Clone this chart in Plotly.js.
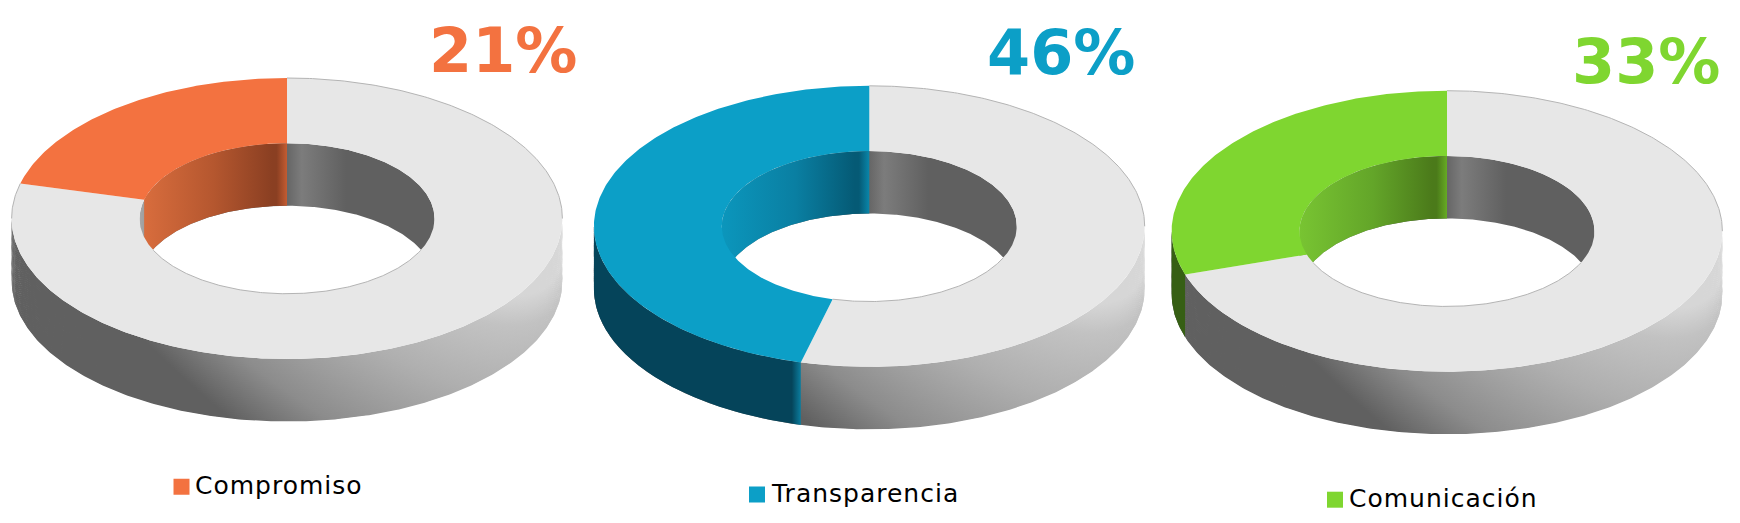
<!DOCTYPE html>
<html><head><meta charset="utf-8">
<script src="https://cdn.plot.ly/plotly-3.0.1.min.js"></script>
<style>html,body{margin:0;padding:0;background:#fff}#c{width:1740px;height:523px}
.annotation[data-index="1"] text,.annotation[data-index="3"] text,.annotation[data-index="5"] text{letter-spacing:1px}
</style>
</head><body><div id="c"></div>
<script>
// ---- data ----
const categories = ['Compromiso', 'Transparencia', 'Comunicación'];
const shownPercent = [21, 46, 33];        // printed numbers
const wedgePercent = [21, 46, 30];        // size of the coloured slice as drawn
// ---- colours ----
const topColors = ['#f37240', '#0c9fc7', '#7fd630'];
const outerWallColors = ['#8a3f22', '#05445a', '#365f14'];
const outerWallFade = ['#8a3f22', '#0b7d9e', '#365f14'];
const innerScales = [
  [[0,'#da6e3e'],[0.5,'#b5572f'],[0.9,'#8a3f22'],[0.93,'#8a3f22'],[1,'#c45c32']],
  [[0,'#0b96bc'],[0.5,'#0a7fa2'],[0.9,'#055a75'],[0.93,'#055a75'],[1,'#0a86aa']],
  [[0,'#78c432'],[0.5,'#63a529'],[0.9,'#4b7a1a'],[0.93,'#4b7a1a'],[1,'#66ab24']]
];
const restColor = '#e7e7e7', edgeColor = '#b4b4b4';
const greyWallScale = [[0,'#606060'],[0.32,'#606060'],[0.5,'#8c8c8c'],[0.75,'#afafaf'],[0.925,'#c2c2c2'],[1,'#d6d6d6']];
const greyInnerScale = [[0,'#a8a8a8'],[0.05,'#8a8a8a'],[0.3,'#606060'],[0.5,'#666666'],[0.55,'#7c7c7c'],[0.7,'#606060'],[1,'#606060']];
// ---- layout of each ring, in page pixels ----
const W = 1740, H = 523;
const centreX = [287, 869.3, 1447], centreY = [218.5, 226.3, 231.2];
const radX = 275.4, radY = 140.5, innerRatio = 0.5356, depthUnits = 0.445;
const labelX = [432, 990, 1575], labelBase = [71, 73.3, 82.3];
const squareX = [181.5, 757, 1335], squareY = [486.7, 494.5, 499.7];
const nameX = [195, 771, 1349.4], nameBase = [492.7, 500.7, 505.7];
const wallStrips = 32, wallSlant = 0.16;

function arc(a, b, r, drop) {
  const xs = [], ys = [], n = Math.max(2, Math.ceil(Math.abs(b - a) * 1.5));
  for (let i = 0; i <= n; i++) {
    const t = (a + (b - a) * i / n) * Math.PI / 180;
    xs.push(-r * Math.sin(t)); ys.push(r * Math.cos(t) - drop);
  }
  return [xs, ys];
}
function band(a, b, r1, d1, r2, d2) {
  const p = arc(a, b, r1, d1), q = arc(b, a, r2, d2);
  return [p[0].concat(q[0], [p[0][0]]), p[1].concat(q[1], [p[1][0]])];
}
const greyInner = {type:'horizontal', start:-innerRatio, stop:innerRatio, colorscale:greyInnerScale};

const traces = [], layout = {
  width:W, height:H, margin:{l:0,r:0,t:0,b:0}, paper_bgcolor:'#fff', plot_bgcolor:'rgba(0,0,0,0)',
  showlegend:false, hovermode:false, annotations:[]
};
categories.forEach((name, i) => {
  const sfx = i ? String(i + 1) : '';
  const xa = 'x' + sfx, ya = 'y' + sfx;
  const half = 1.04;
  layout['xaxis' + sfx] = {domain:[(centreX[i] - half*radX)/W, (centreX[i] + half*radX)/W], range:[-half, half], visible:false, fixedrange:true};
  layout['yaxis' + sfx] = {domain:[0,1], range:[-(H - centreY[i])/radY, centreY[i]/radY], visible:false, fixedrange:true};
  const px = v => (v - centreX[i]) / radX;
  const py = v => (centreY[i] - v) / radY;
  const w = wedgePercent[i] * 3.6;
  const add = (b, extra) => traces.push(Object.assign({type:'scatter', mode:'lines', x:b[0], y:b[1], xaxis:xa, yaxis:ya, fill:'toself', line:{width:0}, hoverinfo:'skip'}, extra));
  // outer side wall: stacked strips so the shading leans diagonally
  for (let k = wallStrips - 1; k >= 0; k--) {
    const f0 = k / wallStrips, f1 = (k + 1) / wallStrips;
    const low = k === wallStrips - 1 ? depthUnits : (f1 + 0.02) * depthUnits;
    const s = ((f0 + f1) / 2 - 0.5) * 2 * wallSlant;
    add(band(90, 270, 1, f0 * depthUnits, 1, low), {name:'rest wall',
      fillgradient:{type:'horizontal', start:-1 + s, stop:1 + s, colorscale:greyWallScale}});
  }
  if (w > 90) {
    const xe = -Math.sin(w * Math.PI / 180);
    const fadeAt = Math.max(0, 1 - (9 / radX) / (xe + 1));
    add(band(90, w, 1, 0, 1, depthUnits), {fillgradient:{type:'horizontal', start:-1, stop:xe,
      colorscale:[[0,outerWallColors[i]],[fadeAt,outerWallColors[i]],[1,outerWallFade[i]]]}, name:name + ' wall'});
  }
  // inner wall
  add(band(-90, 90, innerRatio, 0, innerRatio, depthUnits), {fillgradient:greyInner, name:'rest inner wall'});
  add(band(0, Math.min(w, 90), innerRatio, 0, innerRatio, depthUnits), {fillgradient:{type:'horizontal', start:-innerRatio, stop:0, colorscale:innerScales[i]}, name:name + ' inner wall'});
  // top face
  add(band(w, 360, 1, 0, innerRatio, 0), {fillcolor:restColor, name:'rest'});
  add(band(0, w, 1, 0, innerRatio, 0), {fillcolor:topColors[i], name:name});
  // thin edges of the pale part
  const edge = (a, b, r) => { const p = arc(a, b, r, 0);
    traces.push({type:'scatter', mode:'lines', x:p[0], y:p[1], xaxis:xa, yaxis:ya, line:{color:edgeColor, width:1}, hoverinfo:'skip'}); };
  edge(270, 360, 1);
  if (w < 90) edge(w, 90, 1);
  edge(Math.max(w, 115), 245, innerRatio);
  // legend square
  traces.push({type:'scatter', mode:'markers', x:[px(squareX[i])], y:[py(squareY[i])], xaxis:xa, yaxis:ya,
    marker:{symbol:'square', size:16, color:topColors[i]}, hoverinfo:'skip', name:name});
  // texts
  layout.annotations.push({xref:xa, yref:ya, x:px(labelX[i]), y:py(labelBase[i] - 21), xanchor:'left', yanchor:'middle', showarrow:false,
    text:shownPercent[i] + '%', xshift:-5, font:{family:'DejaVu Sans', size:62, weight:700, color:topColors[i]}});
  layout.annotations.push({xref:xa, yref:ya, x:px(nameX[i]), y:py(nameBase[i] - 7), xanchor:'left', yanchor:'middle', align:'left', showarrow:false,
    text:name, xshift:-2, font:{family:'DejaVu Sans', size:25, color:'#000'}});
});
Plotly.newPlot('c', traces, layout, {staticPlot:true, displayModeBar:false});
</script></body></html>
